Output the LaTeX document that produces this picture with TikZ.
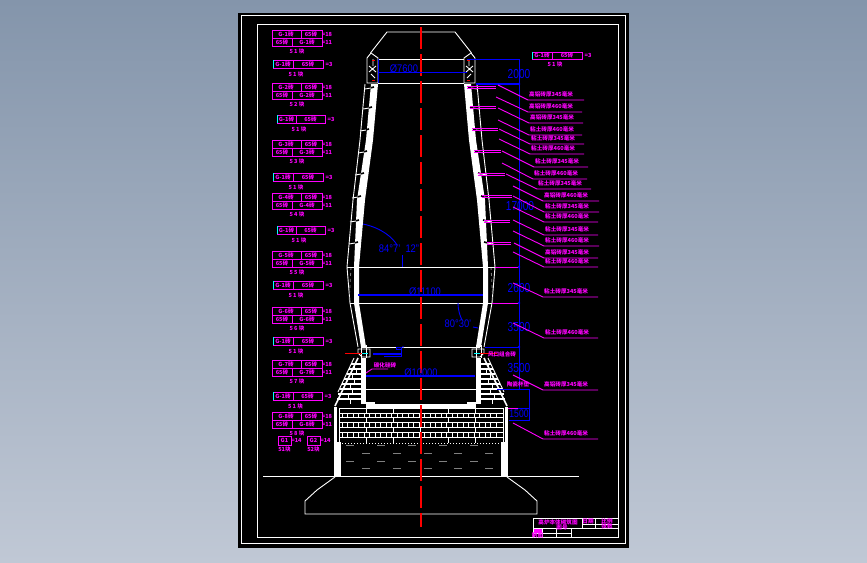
\documentclass[tikz,border=0pt]{standalone}
\usepackage{fontspec}
\setmainfont{Liberation Sans}
\newfontfamily\cjk{Noto Sans CJK SC}
\definecolor{cadmag}{RGB}{255,0,255}
\definecolor{cadblue}{RGB}{0,0,255}
\definecolor{cadcyan}{RGB}{0,255,255}
\definecolor{cadgrey}{RGB}{128,128,128}
\definecolor{sheettop}{RGB}{132,149,171}
\definecolor{sheetbot}{RGB}{192,200,213}
\tikzset{
  wline/.style={draw=white, line width=.9pt},
  mline/.style={draw=cadmag, line width=.9pt},
  bline/.style={draw=cadblue, line width=.9pt},
  mtext/.style={text=cadmag, inner sep=0pt, font=\cjk\bfseries\fontsize{5.6}{6}\selectfont},
  dimtext/.style={text=cadblue, inner sep=0pt, font=\fontsize{13}{13}\selectfont, xscale=.78},
  dimdia/.style={text=cadblue, inner sep=0pt, font=\fontsize{11}{11}\selectfont, xscale=.85},
}
% double row brick table: y, first divider, caption, two counts
\newcommand{\dbltable}[5]{
  \draw [mline] (272, #1) rectangle (322, #1+16);
  \draw [mline] (272, #1+8) to (322, #1+8);
  \draw [mline] (#2, #1) to (#2, #1+8);
  \draw [mline] (#2-9, #1+8) to (#2-9, #1+16);
  \node [mtext] (cella#1) at (286, #1+4) {G-#5砖};
  \node [mtext] (cellb#1) at (311, #1+4) {65砖};
  \node [mtext] (cellc#1) at (282, #1+12) {65砖};
  \node [mtext] (celld#1) at (307, #1+12) {G-#5砖};
  \node [mtext] (capt#1) at (297, #1+21) {#3};
  \node [mtext] (cnta#1) at (327, #1+4) {=#4};
  \node [mtext] (cntb#1) at (327, #1+12) {=11};
}
% single row brick table: y, left x, divider x, right x, count
\newcommand{\sgltable}[5]{
  \draw [mline] (#2, #1) rectangle (#4, #1+8);
  \draw [mline] (#3, #1) to (#3, #1+8);
  \draw [draw=cadcyan, line width=.9pt] (#2, #1) to (#2, #1+8);
  \node [mtext] (cella#1) at (#2/2+#3/2, #1+4) {G-1砖};
  \node [mtext] (cellb#1) at (#3/2+#4/2, #1+4) {65砖};
  \node [mtext] (capt#1) at (#2/2+#4/2-2, #1+14) {5 1 块};
  \node [mtext] (cnt#1) at (#4+6, #1+4) {=#5};
}
% one half of the lining, the other half is its mirror image
\newcommand{\liningside}{
  % cap
  \draw [wline] (371, 53) to (367, 58) to (367, 83) to (378, 83) to (378, 58) to (371, 53);
  \draw [wline] (373, 59) to (373, 66) (369, 66) to (376, 72) (376, 66) to (369, 72) (371, 74) to (375, 78);
  \draw [red, line width=1pt] (372, 60) to (375, 60) (372, 80) to (375, 80);
  % shell and lining
  \fill [white] (378, 84) to (373, 140) to (365, 200) to (359, 267) to (359, 303) to (366, 347)
    to (361, 347) to (354, 303) to (354, 267) to (357, 200) to (366, 140) to (371, 84) -- cycle;
  \draw [wline] (365, 84) to (360, 140) to (353, 200) to (347, 267) to (350, 303) to (358, 347);
  \foreach \ty/\tx in {88/371, 108/369, 130/366, 152/364, 174/361, 197/358, 221/356, 243/355}
  {
    \draw [black, line width=1.6pt] (\tx-1, \ty) to (\tx+3, \ty-1);
    \draw [wline] (\tx-6, \ty+1) to (\tx, \ty);
  }
  \draw [cadgrey, dashed, line width=.8pt] (351, 267) to (349, 303);
  \draw [wline] (347, 267) to (354, 267) (350, 303) to (354, 303);
  % nose
  \draw [wline] (358, 349) to (370, 349) to (370, 357) to (362, 357) to (358, 353) -- cycle;
  \draw [wline] (361, 345) to (361, 358) (366, 345) to (366, 358);
  \draw [red, line width=.8pt] (345, 353) to (363, 353);
  \draw [cadcyan, line width=.8pt] (362, 353) to (368, 353);
  % stepped base
  \fill [white] (361, 358) rectangle (366, 404);
  \draw [white, line width=1.6pt] (358, 358) to (335, 406);
  \draw [wline] (354, 358) to (338, 392);
  \foreach \ry/\rx in {364/351, 369/349, 374/347, 379/344, 384/342, 389/340, 394/338, 399/337}
    \draw [white, line width=1.2pt] (\rx, \ry) to (361, \ry);
  \foreach \ry/\rx in {364/354, 369/356, 374/352, 379/354, 384/350, 389/352, 394/348, 399/350}
    \draw [wline] (\rx, \ry) to (\rx, \ry+5);
  \fill [white] (366, 402) rectangle (375, 408);
  \fill [white] (334, 407) rectangle (337, 477);
  \fill [white] (334, 442) rectangle (341, 477);
}

\begin{document}
\begin{tikzpicture}[x=1pt, y=-1pt]
  \useasboundingbox (0, 0) rectangle (867, 562);
  \shade [top color=sheettop, bottom color=sheetbot] (0, 0) rectangle (867, 562);
  \fill [black] (238, 13) rectangle (629, 548);
  \draw [white, line width=.7pt] (241, 15.5) rectangle (625.5, 543.5);
  \draw [white, line width=.9pt] (257.5, 24.5) rectangle (618, 537.5);

  % brick tables on the left
  \dbltable{30}{301}{5 1 块}{18}{1}
  \sgltable{60}{273}{293}{323}{3}
  \dbltable{83}{301}{5 2 块}{18}{2}
  \sgltable{115}{277}{296}{325}{3}
  \dbltable{140}{301}{5 3 块}{18}{3}
  \sgltable{173}{273}{293}{323}{3}
  \dbltable{193}{301}{5 4 块}{18}{4}
  \sgltable{226}{277}{296}{325}{3}
  \dbltable{251}{301}{5 5 块}{18}{5}
  \sgltable{281}{273}{293}{323}{3}
  \dbltable{307}{301}{5 6 块}{18}{6}
  \sgltable{337}{273}{293}{323}{3}
  \dbltable{360}{301}{5 7 块}{18}{7}
  \sgltable{392}{273}{293}{322}{3}
  \dbltable{412}{301}{5 8 块}{18}{8}
  \foreach \bx/\bn in {278/1, 307/2}
  {
    \draw [mline] (\bx, 436) rectangle (\bx+13, 445);
    \node [mtext] (brick\bn) at (\bx+6.5, 440.5) {G\bn};
    \node [mtext] (brcap\bn) at (\bx+6.5, 449) {5\bn 块};
    \node [mtext] (brcnt\bn) at (\bx+18.5, 440.5) {=14};
  }

  % lining
  \draw [wline] (370.5, 53) to (387, 32) to (455, 32) to (471.5, 53);
  \draw [wline] (378, 59) to (464, 59);
  \draw [wline] (378, 83.5) to (464, 83.5);
  \liningside
  \begin{scope}[shift={(842, 0)}, xscale=-1]
    \liningside
  \end{scope}
  \draw [wline] (354, 267) to (488, 267);
  \draw [wline] (354, 303) to (488, 303);
  \draw [wline] (362, 347) to (480, 347);
  \draw [wline] (366, 389) to (476, 389);

  % floor
  \fill [white] (366, 404) rectangle (476, 408);
  \foreach \ly in {408, 417, 427, 437}
    \draw [wline] (339, \ly) to (503, \ly);
  \foreach \ly in {413, 422, 432}
    \draw [wline] (339, \ly) to (503, \ly);
  \draw [white, dotted, line width=1pt] (339, 443) to (503, 443);
  \draw [wline] (339, 408) to (339, 443) (503, 408) to (503, 443);
  \foreach \vx in {366, 393, 420, 448, 475}
  {
    \draw [wline] (\vx, 408) to (\vx, 413);
    \draw [wline] (\vx, 417) to (\vx, 422);
    \draw [wline] (\vx, 427) to (\vx, 432);
    \draw [wline] (\vx, 437) to (\vx, 443);
  }
  \foreach \vx in {342, 347.5, ..., 501}
  {
    \draw [white, line width=1pt] (\vx, 413) to (\vx, 417);
    \draw [white, line width=1pt] (\vx, 422) to (\vx, 427);
    \draw [white, line width=1pt] (\vx, 432) to (\vx, 437);
  }
  % hearth
  \foreach \dy in {445, 461, 476}
    \foreach \dx in {346, 377, 408, 439, 470}
      \draw [cadgrey, line width=.9pt] (\dx, \dy) to (\dx+8, \dy);
  \foreach \dy in {453, 468}
    \foreach \dx in {362, 393, 424, 454, 485}
      \draw [cadgrey, line width=.9pt] (\dx, \dy) to (\dx+8, \dy);

  % ground and foundation
  \draw [wline] (263, 476.5) to (579, 476.5);
  \draw [wline] (335, 477) to (317, 490) to (305, 501) to (305, 514) to (537, 514) to (537, 501) to (525, 490) to (507, 477);

  % centre line
  \draw [red, line width=1.1pt, dash pattern=on 22pt off 5pt] (421, 27) to (421, 527);

  % dimensions
  \draw [bline] (467, 59) to (519, 59) to (519, 389);
  \draw [cadblue, line width=1.6pt] (476, 84) to (519, 84);
  \draw [cadblue, line width=.9pt] (378, 59) to (378, 83);
  \draw [cadblue, line width=1.2pt] (378, 72.5) to (467, 72.5);
  \draw [cadblue, line width=1.2pt] (358, 295) to (483, 295);
  \draw [cadblue, line width=1.2pt] (366, 376) to (475, 376);
  \draw [bline] (485, 347) to (519, 347);
  \draw [bline] (497, 389) to (529, 389) to (529, 420) to (509, 420);
  \draw [bline] (518, 408) to (529, 408);
  \draw [mline] (508, 408) to (518, 408);
  \foreach \ky in {84, 267, 303, 347}
    \fill [cadblue] (519, \ky) circle (1.4);
  \node [dimtext] (dimA) at (519, 74) {2000};
  \node [dimtext] (dimB) at (520, 206) {17000};
  \node [dimtext] (dimC) at (519, 288) {2600};
  \node [dimtext] (dimD) at (519, 327) {3500};
  \node [dimtext] (dimE) at (519, 368) {3500};
  \node [dimtext, font=\fontsize{11}{11}\selectfont] (dimF) at (519, 414) {1500};
  \node [dimdia] (diaA) at (404, 69) {Ø7600};
  \node [dimdia] (diaB) at (425, 291.5) {Ø11100};
  \node [dimdia] (diaC) at (421, 372.5) {Ø10000};
  \node [dimdia, xscale=1] (angA) at (399, 249) {84°7'\ \ 12"};
  \node [dimdia, xscale=1] (angB) at (458, 324) {80°30'};
  \draw [bline] (363, 224) .. controls (382, 228) and (393, 238) .. (397, 245);
  \draw [bline] (402, 255) to (402, 267);
  \draw [bline] (458, 303) .. controls (458, 310) and (460, 316) .. (462, 320);
  \draw [bline] (473, 327) to (478, 328);
  % small marker at the throat
  \draw [cadblue, line width=1.4pt] (373, 354) to (401, 354);
  \draw [bline] (401, 349) to (401, 356) to (384, 356);
  \draw [bline] (396, 347) rectangle (401, 349);
  \fill [cadblue] (403, 347) circle (.9);

  % short double lines beside the shell
  \foreach \ay/\bx/\ex in {86/467/496, 106/470/496, 128/472/498, 150/474/501, 173/478/505, 195/482/512, 220/484/510, 242/487/511}
  {
    \draw [mline] (\bx, \ay) to (\ex, \ay);
    \draw [mline] (\bx, \ay+2.5) to (\ex, \ay+2.5);
  }
  \draw [mline] (495, 267) to (518, 267);
  \draw [mline] (492, 303) to (518, 303);

  % leaders on the right
  \foreach \sx/\sy/\bx/\by/\ex/\lab in {
    498/85/528/100/584/高铝砖厚345毫米,
    496/97/528/112/582/高铝砖厚460毫米,
    498/108/529/123/583/高铝砖厚345毫米,
    498/120/529/135/582/粘土砖厚460毫米,
    499/129/530/144/584/粘土砖厚345毫米,
    499/139/530/154/584/粘土砖厚460毫米,
    502/151/534/167/588/粘土砖厚345毫米,
    502/163/533/179/587/粘土砖厚460毫米,
    506/174/537/189/591/粘土砖厚345毫米,
    513/186/543/201/599/高铝砖厚460毫米,
    513/196/544/212/599/粘土砖厚345毫米,
    513/207/544/222/598/粘土砖厚460毫米,
    513/220/544/235/598/粘土砖厚345毫米,
    513/231/544/246/599/粘土砖厚460毫米,
    514/243/544/258/598/高铝砖厚345毫米,
    513/252/544/267/598/粘土砖厚460毫米,
    513/283/543/297/598/粘土砖厚345毫米,
    513/323/544/338/598/粘土砖厚460毫米,
    513/375/543/390/598/高铝砖厚345毫米,
    513/423/543/439/598/粘土砖厚460毫米}
  {
    \draw [mline] (\sx, \sy) to (\bx, \by) to (\ex, \by);
    \node [mtext, anchor=south west] (lead\by) at (\bx+1, \by-2.5) {\lab};
  }
  \draw [mline] (366, 373) to (372, 369) to (388, 369);
  \node [mtext] (hearthlab) at (385, 365) {碳化硅砖};
  \node [mtext] (noselab) at (502, 354) {风口组合砖};
  \node [mtext] (baselab) at (518, 384) {陶瓷杯垫};

  % top right table
  \draw [mline] (532, 52) rectangle (582, 59);
  \draw [mline] (552, 52) to (552, 59);
  \draw [cadcyan, line width=.9pt] (532, 52) to (532, 59);
  \node [mtext] (topa) at (542, 55.5) {G-1砖};
  \node [mtext] (topb) at (567, 55.5) {65砖};
  \node [mtext] (topc) at (588, 55.5) {=3};
  \node [mtext] (topd) at (555, 64) {5 1 块};

  % title block
  \draw [wline] (533, 518) rectangle (618, 537);
  \draw [wline] (533, 528) to (618, 528);
  \draw [wline] (582, 524) to (618, 524);
  \draw [wline] (582, 518) to (582, 528);
  \draw [wline] (595, 518) to (595, 528);
  \draw [wline] (533, 533) to (571, 533);
  \foreach \tx in {542, 556, 571}
    \draw [wline] (\tx, 528) to (\tx, 537);
  \fill [cadmag] (533.5, 529) rectangle (542, 533);
  \node [mtext] (titlea) at (558, 522) {高炉本体砌筑图};
  \node [mtext] (titleb) at (562, 527) {图号};
  \node [mtext] (titlec) at (607, 521) {比例};
  \node [mtext] (titled) at (607, 526) {张数};
  \node [mtext] (titlee) at (588, 521) {日期};
  \node [mtext] (titlef) at (537.5, 535.5) {制图};
\end{tikzpicture}
\end{document}
